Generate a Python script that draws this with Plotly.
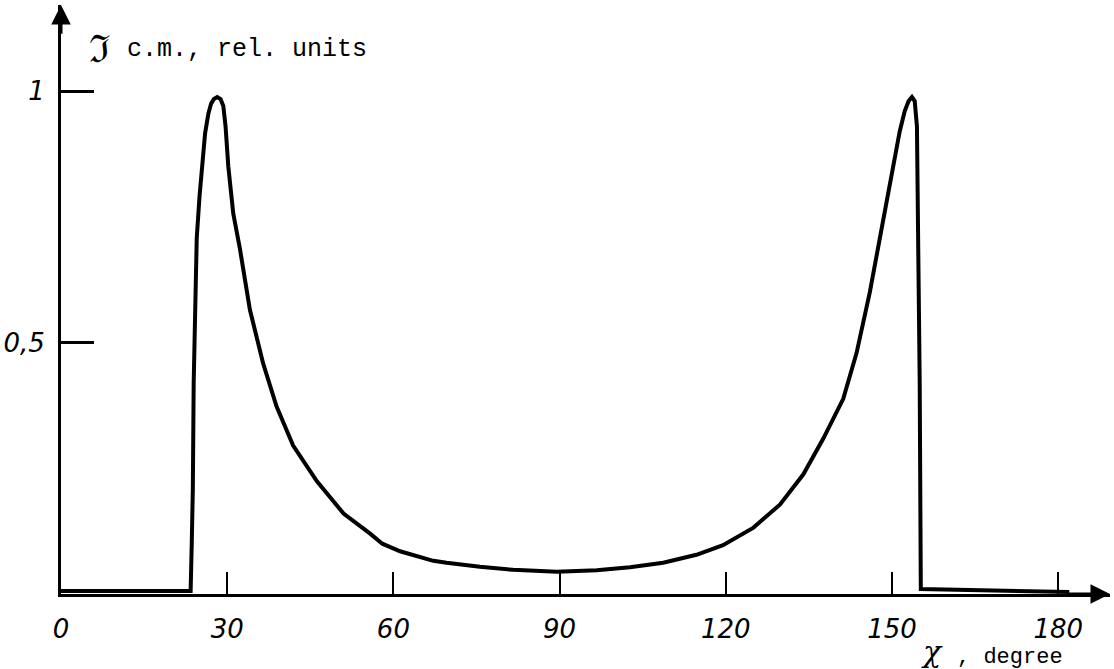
import plotly.graph_objects as go

# Scattering angle (degree) and intensity (rel. units)
angle = [0.0, 23.4, 23.6, 23.8, 23.95, 24.2, 24.5, 25.0, 25.4, 26.0, 26.6,
         27.1, 27.6, 28.2, 28.8, 29.3, 29.7, 30.2, 31.1, 32.3, 34.1, 36.5,
         38.9, 41.9, 46.2, 51.0, 55.8, 58.0, 61.2, 63.6, 67.2, 69.6, 75.6,
         81.6, 89.5, 96.7, 102.7, 108.7, 114.7, 119.5, 125.0, 129.8, 134.0,
         137.6, 141.2, 143.6, 146.0, 147.8, 149.6, 151.4, 152.3, 153.0,
         153.6, 154.1, 154.5, 154.7, 155.0, 155.2, 182.0]
intensity = [0.006, 0.006, 0.10, 0.21, 0.42, 0.58, 0.707, 0.79, 0.85, 0.915,
             0.955, 0.975, 0.984, 0.988, 0.984, 0.97, 0.93, 0.85, 0.756,
             0.686, 0.565, 0.458, 0.373, 0.295, 0.224, 0.16, 0.12, 0.10,
             0.085, 0.078, 0.066, 0.062, 0.054, 0.048, 0.044, 0.047, 0.053,
             0.062, 0.078, 0.097, 0.132, 0.178, 0.238, 0.309, 0.388, 0.479,
             0.60, 0.707, 0.813, 0.92, 0.96, 0.98, 0.988, 0.98, 0.93, 0.777,
             0.42, 0.01, 0.004]

x_ticks = [0, 30, 60, 90, 120, 150, 180]
x_tick_text = ["0", "30", "60", "90", "120", "150", "180"]
y_ticks = [0.5, 1.0]
y_tick_text = ["0,5", "1"]

X_MAX = 189.35
Y_MAX = 1.171

fig = go.Figure()
fig.add_trace(go.Scatter(
    x=angle, y=intensity, mode="lines",
    line=dict(color="black", width=4),
    showlegend=False, hoverinfo="skip", cliponaxis=False,
))

tick_font = dict(family="DejaVu Sans", size=26, color="black", style="italic")

fig.update_xaxes(
    range=[0, X_MAX], showgrid=False, zeroline=False,
    showline=True, linecolor="black", linewidth=3,
    tickmode="array", tickvals=x_ticks, ticktext=x_tick_text,
    ticks="inside", ticklen=22, tickwidth=2, tickcolor="black",
    tickfont=tick_font, ticklabelstandoff=10,
)
fig.update_yaxes(
    range=[0, Y_MAX], showgrid=False, zeroline=False,
    showline=True, linecolor="black", linewidth=3,
    tickmode="array", tickvals=y_ticks, ticktext=y_tick_text,
    ticks="inside", ticklen=33, tickwidth=2.5, tickcolor="black",
    tickfont=tick_font, ticklabelstandoff=8,
)

# axis arrowheads
fig.add_annotation(x=X_MAX, y=0, ax=X_MAX - 8, ay=0, xref="x", yref="y",
                   axref="x", ayref="y", text="", showarrow=True,
                   arrowhead=2, arrowsize=1.3, arrowwidth=3, arrowcolor="black")
fig.add_annotation(x=0, y=Y_MAX, ax=0, ay=Y_MAX - 0.06, xref="x", yref="y",
                   axref="x", ayref="y", text="", showarrow=True,
                   arrowhead=2, arrowsize=1.3, arrowwidth=3, arrowcolor="black")

# axis titles
fig.add_annotation(xref="paper", yref="paper", x=0.025, y=0.926,
                   xanchor="left", yanchor="middle", showarrow=False,
                   text="ℑ", font=dict(family="DejaVu Serif", size=38, color="black"))
fig.add_annotation(xref="paper", yref="paper", x=0.061, y=0.924,
                   xanchor="left", yanchor="middle", showarrow=False,
                   text="c.m., rel. units",
                   font=dict(family="Liberation Mono", size=25, color="black"))
fig.add_annotation(xref="paper", yref="paper", x=0.818, y=-0.098,
                   xanchor="left", yanchor="middle", showarrow=False,
                   text="χ",
                   font=dict(family="DejaVu Serif", size=30, color="black", style="italic"))
fig.add_annotation(xref="paper", yref="paper", x=0.852, y=-0.107,
                   xanchor="left", yanchor="middle", showarrow=False,
                   text=", degree",
                   font=dict(family="Liberation Mono", size=22, color="black"))

fig.update_layout(
    width=1114, height=669,
    margin=dict(l=61, r=4, t=5, b=75),
    plot_bgcolor="white", paper_bgcolor="white",
)

fig.write_html(
    "out.html",
    config={"displayModeBar": False},
    post_script="document.body.style.margin='0';document.body.style.padding='0';"
                "document.documentElement.style.overflow='hidden';",
)
